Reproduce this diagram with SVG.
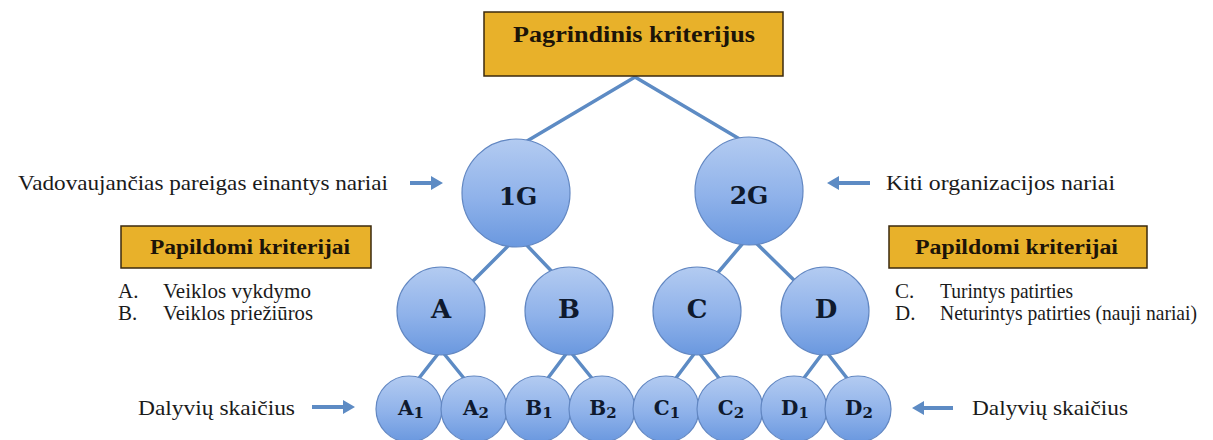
<svg xmlns="http://www.w3.org/2000/svg" width="1213" height="440" viewBox="0 0 1213 440">
<defs>
<linearGradient id="ball" x1="0" y1="0" x2="0" y2="1">
<stop offset="0" stop-color="#b3cbf1"/>
<stop offset="0.55" stop-color="#8fb2ea"/>
<stop offset="1" stop-color="#6a98df"/>
</linearGradient>
<style>
.bg{fill:#ffffff}
.box{fill:#e8b12a;stroke:#3b2a0e;stroke-width:1.5}
.hdr{font-weight:bold;fill:#1c1408}
.txt{font-size:21px;fill:#1a1a1a}
.circ{fill:url(#ball);stroke:#6287c2;stroke-width:1.2}
.lbl{font-family:'DejaVu Serif',serif;font-weight:bold;fill:#0f1a2e;text-anchor:middle}
.sub{font-size:15px}
.con{stroke:#5d8bc4;stroke-width:3.5;fill:none;stroke-linecap:round}
.arr{fill:#5d8bc4}
</style>
</defs>
<rect class="bg" x="0" y="0" width="1213" height="440"/>

<g id="connectors">
<path class="con" d="M635 77 L522 144 M635 77 L748 144"/>
<path class="con" d="M518 236 L466 288 M518 236 L560 280"/>
<path class="con" d="M749 236 L710 282 M749 236 L800 286"/>
<path class="con" d="M441 350 L416 382 M441 350 L467 382"/>
<path class="con" d="M569 350 L545 382 M569 350 L595 382"/>
<path class="con" d="M697 350 L673 382 M697 350 L722 382"/>
<path class="con" d="M825 350 L801 382 M825 350 L850 382"/>
</g>

<g id="arrows">
<path class="arr" d="M410 181 H431 V176 L443 183 L431 190 V185 H410 Z"/>
<path class="arr" d="M870 181 H839 V176 L827 183 L839 190 V185 H870 Z"/>
<path class="arr" d="M312 405 H343 V400 L355 407 L343 414 V409 H312 Z"/>
<path class="arr" d="M953 406 H924 V401 L912 408 L924 415 V410 H953 Z"/>
</g>

<g font-family="Liberation Serif, serif">
<g id="main-criterion">
<rect class="box" x="484" y="12" width="299" height="64"/>
<text class="hdr" x="513" y="42" font-size="23" textLength="242" lengthAdjust="spacingAndGlyphs">Pagrindinis kriterijus</text>
</g>

<g id="label-1g">
<text class="txt" x="18" y="190" textLength="370" lengthAdjust="spacingAndGlyphs">Vadovaujančias pareigas einantys nariai</text>
</g>
<g id="label-2g">
<text class="txt" x="886" y="190" textLength="229" lengthAdjust="spacingAndGlyphs">Kiti organizacijos nariai</text>
</g>

<g id="extra-left">
<rect class="box" x="121" y="226" width="250" height="42"/>
<text class="hdr" x="150" y="254" font-size="20" textLength="200" lengthAdjust="spacingAndGlyphs">Papildomi kriterijai</text>
<text class="txt" x="118" y="298">A.</text>
<text class="txt" x="163" y="298" textLength="148" lengthAdjust="spacingAndGlyphs">Veiklos vykdymo</text>
<text class="txt" x="118" y="320">B.</text>
<text class="txt" x="163" y="320" textLength="150" lengthAdjust="spacingAndGlyphs">Veiklos priežiūros</text>
</g>

<g id="extra-right">
<rect class="box" x="889" y="226" width="258" height="42"/>
<text class="hdr" x="915" y="254" font-size="20" textLength="203" lengthAdjust="spacingAndGlyphs">Papildomi kriterijai</text>
<text class="txt" x="895" y="298">C.</text>
<text class="txt" x="940" y="298" textLength="133" lengthAdjust="spacingAndGlyphs">Turintys patirties</text>
<text class="txt" x="895" y="320">D.</text>
<text class="txt" x="940" y="320" font-size="17" textLength="257" lengthAdjust="spacingAndGlyphs">Neturintys patirties (nauji nariai)</text>
</g>

<g id="count-left">
<text class="txt" x="138" y="415" textLength="157" lengthAdjust="spacingAndGlyphs">Dalyvių skaičius</text>
</g>
<g id="count-right">
<text class="txt" x="972" y="415" textLength="156" lengthAdjust="spacingAndGlyphs">Dalyvių skaičius</text>
</g>
</g>

<g id="node-1G"><circle class="circ" cx="516" cy="193" r="54"/><text class="lbl" x="518" y="205" font-size="25">1G</text></g>
<g id="node-2G"><circle class="circ" cx="749" cy="191" r="54"/><text class="lbl" x="749" y="204" font-size="25">2G</text></g>

<g id="node-A"><circle class="circ" cx="441" cy="311" r="44"/><text class="lbl" x="441" y="318" font-size="26">A</text></g>
<g id="node-B"><circle class="circ" cx="569" cy="311" r="44"/><text class="lbl" x="569" y="318" font-size="26">B</text></g>
<g id="node-C"><circle class="circ" cx="697" cy="311" r="44"/><text class="lbl" x="697" y="318" font-size="26">C</text></g>
<g id="node-D"><circle class="circ" cx="825" cy="311" r="44"/><text class="lbl" x="826" y="318" font-size="26">D</text></g>

<g id="node-A1"><circle class="circ" cx="409" cy="409" r="33"/><text class="lbl" x="411" y="415" font-size="20">A<tspan class="sub" dy="3">1</tspan></text></g>
<g id="node-A2"><circle class="circ" cx="474" cy="409" r="33"/><text class="lbl" x="476" y="415" font-size="20">A<tspan class="sub" dy="3">2</tspan></text></g>
<g id="node-B1"><circle class="circ" cx="538" cy="409" r="33"/><text class="lbl" x="539" y="415" font-size="20">B<tspan class="sub" dy="3">1</tspan></text></g>
<g id="node-B2"><circle class="circ" cx="602" cy="409" r="33"/><text class="lbl" x="603" y="415" font-size="20">B<tspan class="sub" dy="3">2</tspan></text></g>
<g id="node-C1"><circle class="circ" cx="666" cy="409" r="33"/><text class="lbl" x="667" y="415" font-size="20">C<tspan class="sub" dy="3">1</tspan></text></g>
<g id="node-C2"><circle class="circ" cx="730" cy="409" r="33"/><text class="lbl" x="731" y="415" font-size="20">C<tspan class="sub" dy="3">2</tspan></text></g>
<g id="node-D1"><circle class="circ" cx="794" cy="409" r="33"/><text class="lbl" x="795" y="415" font-size="20">D<tspan class="sub" dy="3">1</tspan></text></g>
<g id="node-D2"><circle class="circ" cx="858" cy="409" r="33"/><text class="lbl" x="859" y="415" font-size="20">D<tspan class="sub" dy="3">2</tspan></text></g>
</svg>
